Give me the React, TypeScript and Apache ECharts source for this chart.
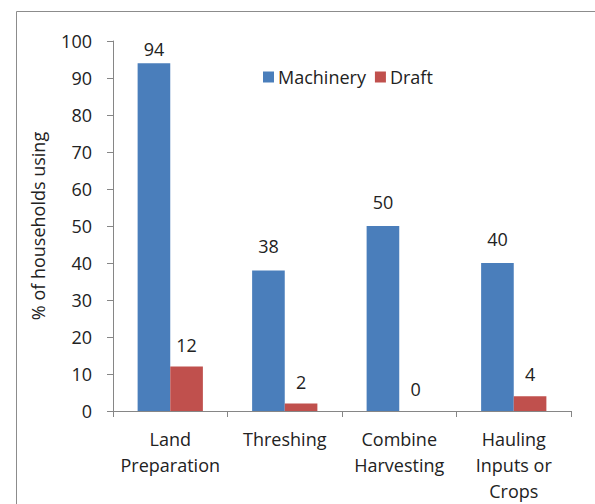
import React, { useEffect, useRef } from "react";
import * as echarts from "echarts";

const categories = ["Land\nPreparation", "Threshing", "Combine\nHarvesting", "Hauling\nInputs or\nCrops"];
const machinery = [94, 38, 50, 40];
const draft = [12, 2, 0, 4];
const seriesNames = ["Machinery", "Draft"];
const yTitle = "% of households using";

export default function App() {
  const ref = useRef<HTMLDivElement>(null);
  useEffect(() => {
    document.body.style.margin = "0";
    const chart = echarts.init(ref.current!, null, { renderer: "svg" });
    const font = "Open Sans, Liberation Sans, sans-serif";
    const labelCfg = {
      show: true,
      position: "top" as const,
      distance: 15,
      color: "#222",
      fontSize: 18,
      fontFamily: font,
    };
    chart.setOption({
      animation: false,
      backgroundColor: "#fff",
      graphic: [
        {
          type: "rect",
          shape: { x: 16.5, y: 11.5, width: 700, height: 700 },
          style: { fill: "none", stroke: "#8c8c8c", lineWidth: 1 },
          silent: true,
        },
      ],
      legend: {
        left: 258,
        top: 63,
        itemWidth: 11,
        itemHeight: 11,
        itemGap: 9,
        icon: "rect",
        textStyle: { fontSize: 18, fontFamily: font, color: "#222", padding: [0, 0, 0, -1] },
        data: seriesNames,
      },
      grid: { left: 113, right: 24, top: 41, bottom: 91, containLabel: false },
      xAxis: {
        type: "category",
        data: categories,
        axisLine: { lineStyle: { color: "#868686", width: 1 } },
        axisTick: { show: true, length: 6, alignWithLabel: false, lineStyle: { color: "#868686" } },
        axisLabel: {
          fontSize: 18,
          fontFamily: font,
          color: "#222",
          lineHeight: 26,
          margin: 15,
          interval: 0,
        },
      },
      yAxis: {
        type: "value",
        min: 0,
        max: 100,
        interval: 10,
        name: yTitle,
        nameLocation: "middle",
        nameGap: 66,
        nameTextStyle: { fontSize: 18, fontFamily: font, color: "#222" },
        axisLine: { show: true, lineStyle: { color: "#868686", width: 1 } },
        axisTick: { show: true, length: 6, lineStyle: { color: "#868686" } },
        splitLine: { show: false },
        axisLabel: { fontSize: 18, fontFamily: font, color: "#222", margin: 21 },
      },
      series: [
        {
          name: seriesNames[0],
          type: "bar",
          data: machinery.map((v, i) =>
            i === 0 ? { value: v, label: { distance: 5 } } : v
          ),
          barGap: "0%",
          barCategoryGap: "43%",
          itemStyle: { color: "#4a7ebb" },
          label: labelCfg,
        },
        {
          name: seriesNames[1],
          type: "bar",
          data: draft,
          itemStyle: { color: "#c0504d" },
          label: { ...labelCfg, distance: 13 },
        },
      ],
    });
    return () => chart.dispose();
  }, []);
  return <div ref={ref} style={{ width: 595, height: 504, position: "absolute", left: 0, top: 0 }} />;
}
